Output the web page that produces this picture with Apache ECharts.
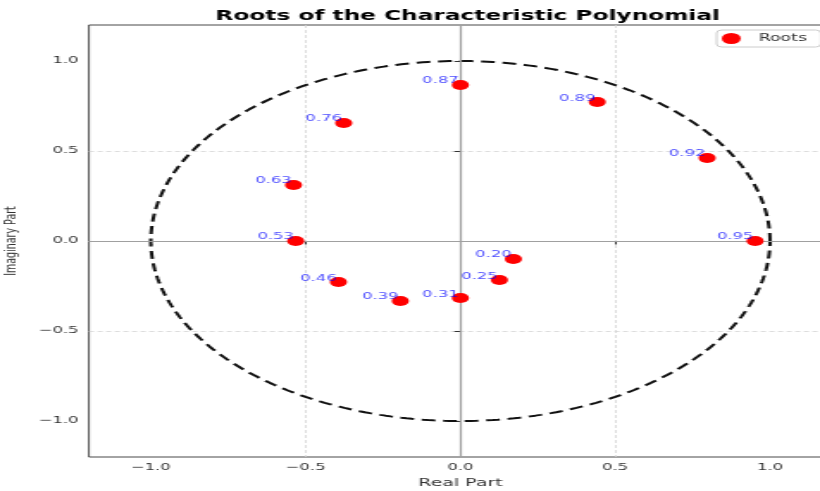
<!DOCTYPE html>
<html>
<head>
<meta charset="utf-8">
<script src="https://cdn.jsdelivr.net/npm/echarts@6/dist/echarts.min.js"></script>
<style>
html,body{margin:0;padding:0;overflow:hidden;background:#fff;width:820px;height:491px;}
/* the reference image is horizontally stretched: an equal-aspect plot widened by ~1.72 */
#chart{width:476px;height:491px;transform:scaleX(1.72269);transform-origin:0 0;}
</style>
</head>
<body>
<div id="chart"></div>
<script>
// ---- data ----
const realParts = [0.0, 0.442, 0.797, 0.952, -0.377, -0.539, -0.532, -0.394, -0.194, 0.0, 0.126, 0.171];
const imagParts = [0.867, 0.772, 0.461, 0.0, 0.656, 0.311, 0.0, -0.228, -0.333, -0.317, -0.217, -0.100];
const magnitudes = ['0.87', '0.89', '0.92', '0.95', '0.76', '0.63', '0.53', '0.46', '0.39', '0.31', '0.25', '0.20'];
const tickValues = [-1.0, -0.5, 0.0, 0.5, 1.0];
const tickLabels = ['\u22121.0', '\u22120.5', '0.0', '0.5', '1.0'];
const seriesName = 'Roots';

// reference unit circle (geometry, not data)
const circleSteps = 360;
const unitCircle = [];
for (let i = 0; i <= circleSteps; i++) {
  const t = 2 * Math.PI * i / circleSteps;
  unitCircle.push([Math.cos(t), Math.sin(t)]);
}

const rootPoints = realParts.map((x, i) => [x, imagParts[i]]);
const fmtTick = v => {
  const idx = tickValues.findIndex(t => Math.abs(t - v) < 1e-9);
  return idx >= 0 ? tickLabels[idx] : '';
};

const FONT = 'DejaVu Sans';
const axisCommon = {
  type: 'value',
  min: -1.2,
  max: 1.2,
  splitNumber: 5,
  nameLocation: 'middle',
  axisLine: { show: false },
  axisTick: { show: true, inside: false, length: 3.5, customValues: tickValues, lineStyle: { color: '#333', width: 1 } },
  axisLabel: { customValues: tickValues, formatter: fmtTick, fontSize: 9.5, color: '#333', fontFamily: FONT },
  splitLine: { show: true, showMinLine: false, showMaxLine: false, lineStyle: { color: '#d4d4d4', width: 0.8, type: [3, 2] } }
};

const chart = echarts.init(document.getElementById('chart'), null, { renderer: 'canvas' });
chart.setOption({
  animation: false,
  textStyle: { fontFamily: FONT },
  title: {
    text: 'Roots of the Characteristic Polynomial',
    left: 266.5,
    textAlign: 'center',
    top: 4,
    textStyle: { fontFamily: FONT, fontWeight: 'bold', fontSize: 13.5, color: '#000' }
  },
  legend: {
    data: [seriesName],
    left: 416,
    top: 30,
    itemWidth: 22,
    itemHeight: 11,
    padding: [3, 8, 3, 3],
    borderColor: '#cccccc',
    borderWidth: 1,
    borderRadius: 3,
    backgroundColor: 'rgba(255,255,255,0.8)',
    textStyle: { fontSize: 10, color: '#333', fontFamily: FONT }
  },
  grid: {
    left: 51.6, top: 25, width: 431.3, height: 432,
    outerBoundsMode: 'none',
    containLabel: false,
    show: true, borderColor: '#333', borderWidth: 0.9, backgroundColor: 'transparent'
  },
  xAxis: Object.assign({}, axisCommon, {
    name: 'Real Part',
    nameGap: 17,
    nameTextStyle: { fontSize: 11, color: '#333', fontFamily: FONT },
    axisLabel: Object.assign({}, axisCommon.axisLabel, { margin: 6 })
  }),
  yAxis: Object.assign({}, axisCommon, {
    name: 'Imaginary Part',
    nameGap: 33,
    nameTextStyle: { fontSize: 9.5, color: '#333', fontFamily: FONT },
    axisLabel: Object.assign({}, axisCommon.axisLabel, { margin: 6 })
  }),
  series: [
    {
      name: 'Unit Circle',
      type: 'line',
      data: unitCircle,
      showSymbol: false,
      silent: true,
      z: 1,
      lineStyle: { color: '#111', width: 2, type: [8, 4.5] }
    },
    {
      name: seriesName,
      type: 'scatter',
      data: rootPoints,
      symbol: 'circle',
      symbolSize: 10,
      z: 3,
      itemStyle: { color: '#ff0000', opacity: 1 },
      label: {
        show: true,
        formatter: p => magnitudes[p.dataIndex],
        position: [4, 1],
        align: 'right',
        verticalAlign: 'middle',
        fontSize: 9.5,
        color: 'rgba(0,0,255,0.72)',
        fontFamily: FONT
      },
      markLine: {
        silent: true,
        symbol: 'none',
        label: { show: false },
        lineStyle: { color: '#a0a0a0', width: 1.2, type: 'solid' },
        data: [{ xAxis: 0 }, { yAxis: 0 }],
        z: 2
      }
    }
  ]
});
</script>
</body>
</html>
